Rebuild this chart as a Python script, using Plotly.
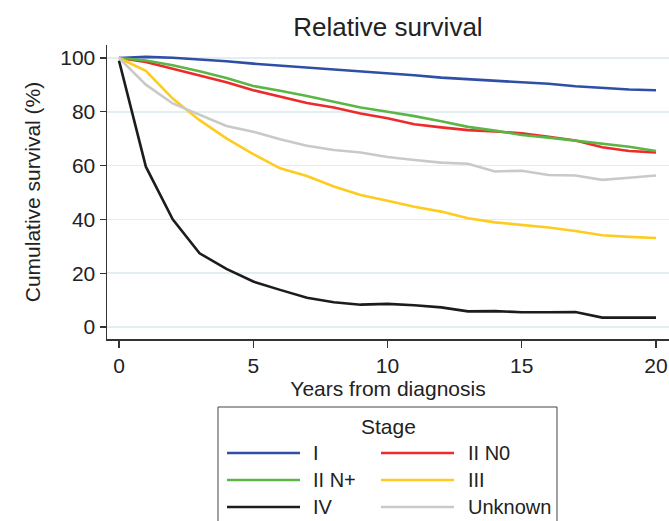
import plotly.graph_objects as go

years = list(range(0, 21))
stages = ["I", "II N0", "II N+", "III", "IV", "Unknown"]
stage_I = [100, 100.4, 100.1, 99.5, 98.8, 97.9, 97.2, 96.4, 95.7, 95.1, 94.3,
           93.6, 92.7, 92.1, 91.7, 91.1, 90.4, 89.5, 88.8, 88.3, 88.0]
stage_II_N0 = [100, 98.5, 96.0, 93.5, 91.0, 88.0, 85.6, 83.3, 81.6, 79.4, 77.6,
               75.4, 74.2, 73.2, 72.7, 72.0, 70.7, 69.3, 66.8, 65.4, 64.9]
stage_II_Np = [100, 99.1, 97.3, 95.1, 92.6, 89.6, 87.8, 85.9, 83.7, 81.6, 80.0,
               78.4, 76.5, 74.4, 73.0, 71.4, 70.4, 69.3, 68.3, 67.0, 65.4]
stage_III = [100, 95.2, 84.9, 76.9, 70.1, 64.3, 59.0, 56.1, 52.2, 49.1, 46.9,
             44.7, 42.9, 40.4, 38.9, 37.9, 37.0, 35.7, 34.1, 33.5, 33.1]
stage_IV = [99, 59.6, 40.0, 27.4, 21.6, 16.9, 13.8, 10.9, 9.2, 8.3, 8.6,
            8.1, 7.3, 5.8, 5.9, 5.5, 5.5, 5.6, 3.5, 3.5, 3.5]
stage_unknown = [100, 90.1, 83.1, 78.8, 74.7, 72.6, 69.8, 67.4, 65.8, 64.9, 63.2,
                 62.1, 61.1, 60.7, 57.8, 58.1, 56.5, 56.3, 54.7, 55.5, 56.3]
series = [stage_I, stage_II_N0, stage_II_Np, stage_III, stage_IV, stage_unknown]
colors = ["#2f4ea6", "#ee2b2b", "#5bb646", "#fecb20", "#1c1c1c", "#c9c9c9"]
y_ticks = [0, 20, 40, 60, 80, 100]
x_ticks = [0, 5, 10, 15, 20]

FONT = "Liberation Sans, Arial, Helvetica, sans-serif"
TXT = "#222222"
W, H = 669, 521
L, R, T, B = 107, 669, 45, 339

fig = go.Figure()
for name, vals, col in zip(stages, series, colors):
    fig.add_trace(go.Scatter(x=years, y=vals, mode="lines", name=name,
                             line=dict(color=col, width=2.6), showlegend=False))

def px_x(px):
    return (px - L) / (R - L)

def px_y(py):
    return (B - py) / (B - T)

shapes = []
annotations = []
# legend box
shapes.append(dict(type="rect", xref="paper", yref="paper",
                   x0=px_x(218), x1=px_x(557), y0=px_y(530), y1=px_y(407),
                   line=dict(color="#444444", width=1), fillcolor="rgba(0,0,0,0)"))
annotations.append(dict(text="Stage", xref="paper", yref="paper",
                        x=px_x(388), y=px_y(427), showarrow=False,
                        xanchor="center", yanchor="middle",
                        font=dict(family=FONT, size=21, color=TXT)))
rows_y = [453, 480, 507]
cols_x = [(227, 300, 311), (381, 454, 466)]
for i, (name, col) in enumerate(zip(stages, colors)):
    r, c = i // 2, i % 2
    x0, x1, xt = cols_x[c]
    yy = rows_y[r]
    shapes.append(dict(type="line", xref="paper", yref="paper",
                       x0=px_x(x0), x1=px_x(x1), y0=px_y(yy), y1=px_y(yy),
                       line=dict(color=col, width=2.6)))
    annotations.append(dict(text=name, xref="paper", yref="paper",
                            x=px_x(xt), y=px_y(yy), showarrow=False,
                            xanchor="left", yanchor="middle",
                            font=dict(family=FONT, size=20, color=TXT)))

fig.update_layout(
    width=W, height=H,
    margin=dict(l=L, r=W - R, t=T, b=H - B, autoexpand=False),
    paper_bgcolor="white", plot_bgcolor="white",
    font=dict(family=FONT, size=21, color=TXT),
    title=dict(text="Relative survival", x=px_x(388), xref="paper",
               xanchor="center", y=1 - 26.5 / H, yanchor="middle",
               font=dict(family=FONT, size=26, color=TXT)),
    shapes=shapes, annotations=annotations,
    showlegend=False,
)
fig.update_xaxes(range=[(L - 119) / 26.85, (R - 119) / 26.85],
                 tickvals=x_ticks, ticks="outside", ticklen=7, tickwidth=1.3,
                 tickcolor="#333333", showline=True, linecolor="#333333",
                 linewidth=1.5, showgrid=False, zeroline=False,
                 tickfont=dict(family=FONT, size=21, color=TXT),
                 title=dict(text="Years from diagnosis", standoff=2,
                            font=dict(family=FONT, size=21, color=TXT)))
fig.update_yaxes(range=[(327 - B) / 2.69, 100 + (58 - T) / 2.69],
                 tickvals=y_ticks, ticks="outside", ticklen=6, tickwidth=1.3,
                 tickcolor="#333333", showline=True, linecolor="#333333",
                 linewidth=1.5, showgrid=True, gridcolor="#e2eef2",
                 gridwidth=1.5, zeroline=False,
                 tickfont=dict(family=FONT, size=21, color=TXT),
                 title=dict(text="Cumulative survival (%)", standoff=14,
                            font=dict(family=FONT, size=21, color=TXT)))

fig.write_html(
    "out.html",
    config={"displayModeBar": False, "staticPlot": True},
    post_script="document.body.style.margin='0';document.body.style.overflow='hidden';",
)
